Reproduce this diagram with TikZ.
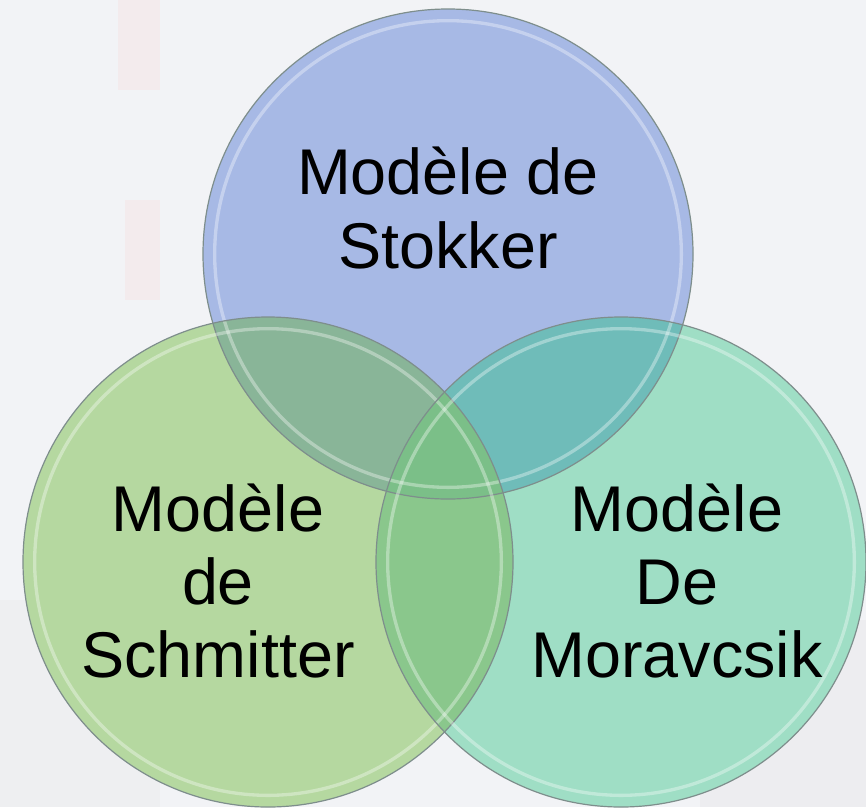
\documentclass[tikz,border=0pt]{standalone}
\usepackage{fontspec}
\setmainfont{Liberation Sans}
\definecolor{bg}{HTML}{F2F3F6}
\definecolor{cblue}{HTML}{A7B9E5}
\definecolor{cgreen}{HTML}{B5D8A0}
\definecolor{cteal}{HTML}{9FDEC5}
\definecolor{cbg}{HTML}{89B598}
\definecolor{cbt}{HTML}{6FBCB9}
\definecolor{cgt}{HTML}{8AC78C}
\definecolor{call}{HTML}{7BBF88}
\definecolor{cedge}{HTML}{7E8E8C}
\tikzset{
  lbl/.style={align=center, font=\fontsize{48.5}{55}\selectfont, text=black, inner sep=0pt},
  rim/.style={draw=cedge, line width=0.9pt},
  shine/.style={draw=white, draw opacity=0.35, line width=2.5pt}
}
\begin{document}
\begin{tikzpicture}[x=0.75pt,y=-0.75pt]
\fill[bg] (0,0) rectangle (866,807);
\useasboundingbox (0,0) rectangle (866,807);
% faint background photo hints
\fill[gray!25, opacity=0.2] (0,600) rectangle (160,807);
\fill[gray!30, opacity=0.2] (700,620) rectangle (866,807);
\fill[red!30, opacity=0.12] (118,0) rectangle (160,90);
\fill[red!30, opacity=0.12] (125,200) rectangle (160,300);
% circles
\coordinate (ct) at (448,254);
\coordinate (cl) at (268,562);
\coordinate (cr) at (621,562);
\def\R{183.75pt}
\fill[cgreen] (cl) circle[radius=\R];
\fill[cteal] (cr) circle[radius=\R];
\fill[cblue] (ct) circle[radius=\R];
\begin{scope}
  \clip (cl) circle[radius=\R];
  \fill[cbg] (ct) circle[radius=\R];
\end{scope}
\begin{scope}
  \clip (cr) circle[radius=\R];
  \fill[cbt] (ct) circle[radius=\R];
\end{scope}
\begin{scope}
  \clip (cl) circle[radius=\R];
  \fill[cgt] (cr) circle[radius=\R];
\end{scope}
\begin{scope}
  \clip (cl) circle[radius=\R];
  \clip (cr) circle[radius=\R];
  \fill[call] (ct) circle[radius=\R];
\end{scope}
% rims and highlights
\foreach \c in {ct,cl,cr}{
  \draw[shine] (\c) circle[radius=175pt];
  \draw[rim] (\c) circle[radius=\R];
}
% labels
\node[lbl] (tstok) at (448,208) {Modèle de\\Stokker};
\node[lbl] (tschm) at (218,581) {Modèle\\de\\Schmitter};
\node[lbl] (tmora) at (677,581) {Modèle\\De\\Moravcsik};
\end{tikzpicture}
\end{document}
